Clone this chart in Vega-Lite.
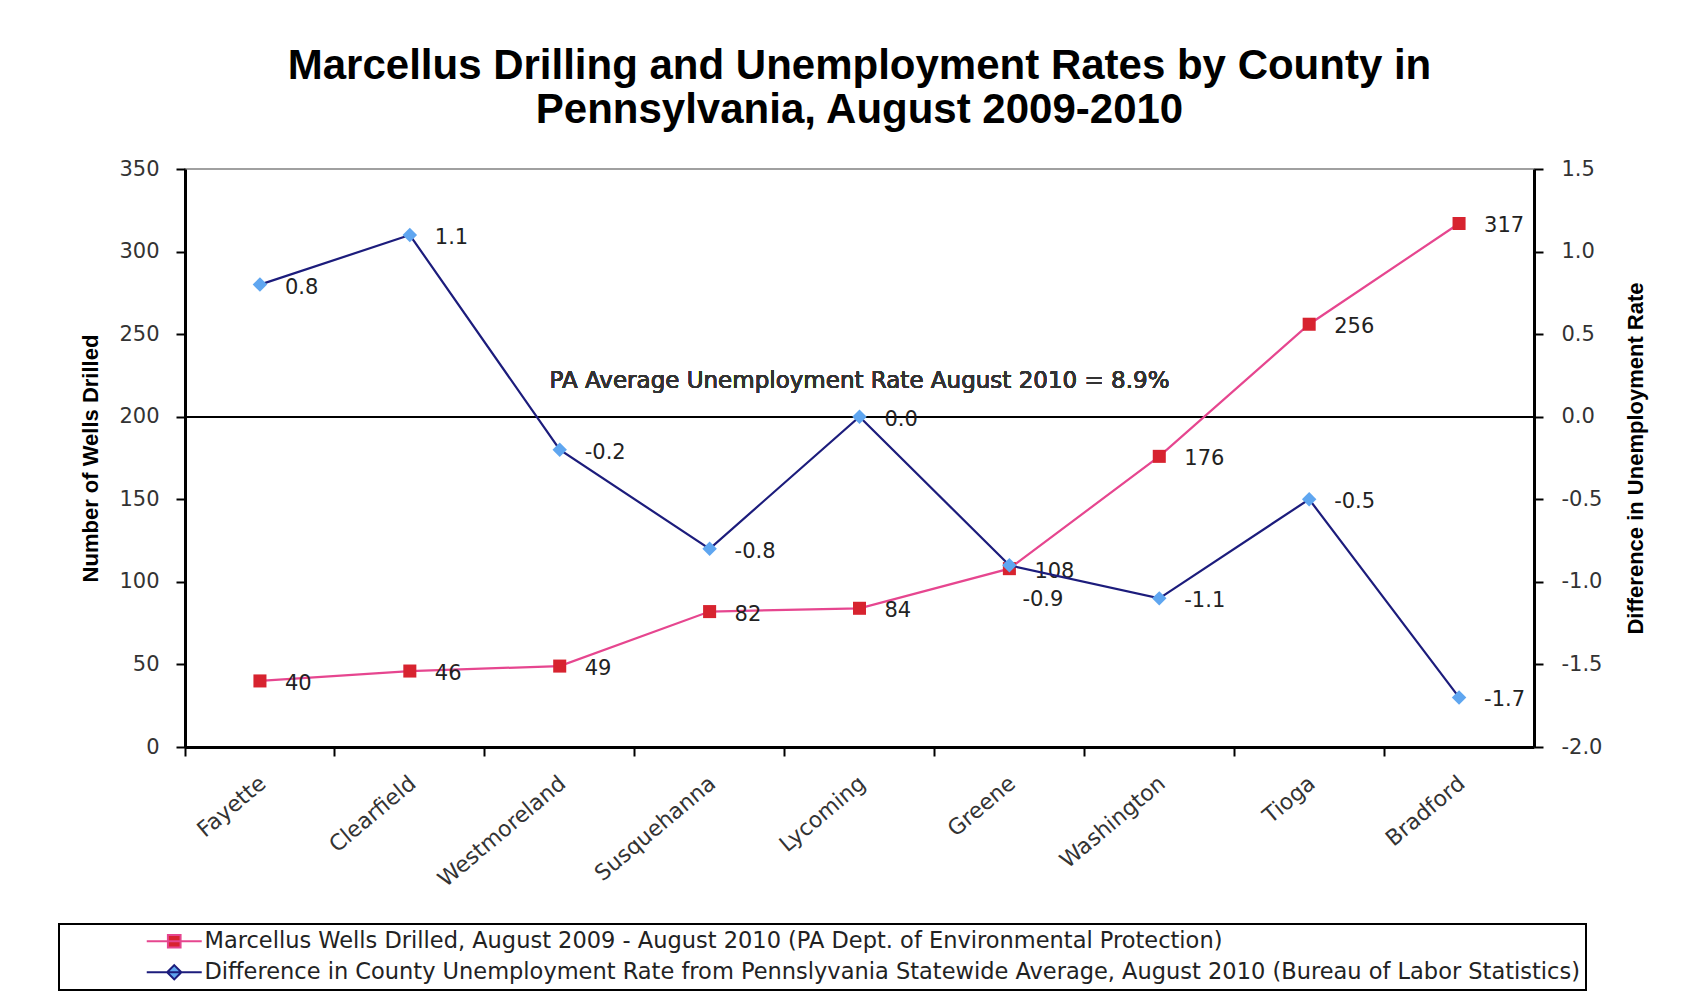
{
  "$schema": "https://vega.github.io/schema/vega-lite/v6.json",
  "width": 1349,
  "height": 578,
  "autosize": {"type": "none"},
  "padding": {"left": 185, "top": 169, "right": 152, "bottom": 248},
  "background": "white",
  "title": {
    "text": ["Marcellus Drilling and Unemployment Rates by County in", "Pennsylvania, August 2009-2010"],
    "font": "Liberation Sans",
    "fontSize": 42,
    "fontWeight": "bold",
    "color": "black",
    "lineHeight": 44,
    "anchor": "middle",
    "frame": "group",
    "baseline": "alphabetic",
    "offset": -7
  },
  "data": {
    "values": [
      {"county": "Fayette", "wells": 40, "unemp": 0.8},
      {"county": "Clearfield", "wells": 46, "unemp": 1.1},
      {"county": "Westmoreland", "wells": 49, "unemp": -0.2},
      {"county": "Susquehanna", "wells": 82, "unemp": -0.8},
      {"county": "Lycoming", "wells": 84, "unemp": 0.0},
      {"county": "Greene", "wells": 108, "unemp": -0.9},
      {"county": "Washington", "wells": 176, "unemp": -1.1},
      {"county": "Tioga", "wells": 256, "unemp": -0.5},
      {"county": "Bradford", "wells": 317, "unemp": -1.7}
    ]
  },
  "config": {
    "locale": {"number": {"decimal": ".", "thousands": ",", "grouping": [3], "currency": ["$", ""], "minus": "-"}},
    "view": {"stroke": "#a0a0a0", "strokeWidth": 2},
    "axis": {
      "labelFont": "DejaVu Sans",
      "labelFontSize": 21,
      "labelColor": "#333333",
      "domainColor": "black",
      "domainWidth": 3,
      "tickColor": "black",
      "tickWidth": 2,
      "tickSize": 9,
      "grid": false,
      "titleFont": "Liberation Sans",
      "titleFontSize": 22,
      "titleFontWeight": "bold",
      "titleColor": "black"
    }
  },
  "resolve": {"scale": {"y": "independent"}},
  "layer": [
    {
      "layer": [
        {
          "mark": {"type": "rule", "color": "black", "strokeWidth": 1.5},
          "encoding": {
            "y": {"datum": 200, "type": "quantitative", "scale": {"domain": [0, 350], "nice": false, "zero": false}}
          }
        },
        {
          "mark": {"type": "text", "text": "PA Average Unemployment Rate August 2010 = 8.9%", "font": "DejaVu Sans", "fontSize": 23, "fontWeight": "normal", "color": "#333333", "baseline": "alphabetic", "align": "center", "dy": -29},
          "encoding": {
            "x": {"datum": "Lycoming", "type": "nominal", "bandPosition": 0.5},
            "y": {"datum": 200, "type": "quantitative"}
          }
        },
        {
          "mark": {"type": "line", "color": "#e6468f", "strokeWidth": 2.2},
          "encoding": {
            "x": {
              "field": "county", "type": "nominal", "bandPosition": 0.5,
              "scale": {"type": "band", "domain": ["Fayette", "Clearfield", "Westmoreland", "Susquehanna", "Lycoming", "Greene", "Washington", "Tioga", "Bradford"], "paddingInner": 0, "paddingOuter": 0},
              "axis": {"orient": "bottom", "title": null, "bandPosition": 0, "labelOffset": 3, "labelAngle": -40, "labelAlign": "right", "labelBaseline": "middle", "labelPadding": 24, "labelFontSize": 22}
            },
            "y": {
              "field": "wells", "type": "quantitative",
              "scale": {"domain": [0, 350], "nice": false, "zero": false},
              "axis": {"orient": "left", "values": [0, 50, 100, 150, 200, 250, 300, 350], "title": "Number of Wells Drilled", "labelPadding": 17, "titlePadding": 16}
            }
          }
        },
        {
          "mark": {"type": "point", "shape": "square", "filled": true, "size": 170, "color": "#d7232f", "opacity": 1},
          "encoding": {
            "x": {"field": "county", "type": "nominal", "bandPosition": 0.5},
            "y": {"field": "wells", "type": "quantitative"}
          }
        },
        {
          "mark": {"type": "text", "font": "DejaVu Sans", "fontSize": 21, "color": "#222222", "align": "left", "baseline": "middle", "dx": 25, "dy": 3},
          "encoding": {
            "x": {"field": "county", "type": "nominal", "bandPosition": 0.5},
            "y": {"field": "wells", "type": "quantitative"},
            "text": {"field": "wells", "type": "quantitative"}
          }
        }
      ]
    },
    {
      "layer": [
        {
          "mark": {"type": "line", "color": "#1c1c7c", "strokeWidth": 2.2},
          "encoding": {
            "x": {"field": "county", "type": "nominal", "bandPosition": 0.5},
            "y": {
              "field": "unemp", "type": "quantitative",
              "scale": {"domain": [-2, 1.5], "nice": false, "zero": false},
              "axis": {"orient": "right", "values": [-2, -1.5, -1, -0.5, 0, 0.5, 1, 1.5], "format": ".1f", "title": "Difference in Unemployment Rate", "titleAngle": -90, "titleBaseline": "top", "labelPadding": 18, "titlePadding": 24}
            }
          }
        },
        {
          "mark": {"type": "point", "shape": "diamond", "filled": true, "size": 210, "color": "#5fa6f0", "opacity": 1},
          "encoding": {
            "x": {"field": "county", "type": "nominal", "bandPosition": 0.5},
            "y": {"field": "unemp", "type": "quantitative"}
          }
        },
        {
          "transform": [{"filter": "datum.county != 'Greene'"}],
          "mark": {"type": "text", "font": "DejaVu Sans", "fontSize": 21, "color": "#222222", "align": "left", "baseline": "middle", "dx": 25, "dy": 3},
          "encoding": {
            "x": {"field": "county", "type": "nominal", "bandPosition": 0.5},
            "y": {"field": "unemp", "type": "quantitative"},
            "text": {"field": "unemp", "type": "quantitative", "format": ".1f"}
          }
        },
        {
          "transform": [{"filter": "datum.county == 'Greene'"}],
          "mark": {"type": "text", "font": "DejaVu Sans", "fontSize": 21, "color": "#222222", "align": "left", "baseline": "middle", "dx": 13, "dy": 35},
          "encoding": {
            "x": {"field": "county", "type": "nominal", "bandPosition": 0.5},
            "y": {"field": "unemp", "type": "quantitative"},
            "text": {"field": "unemp", "type": "quantitative", "format": ".1f"}
          }
        }
      ]
    },
    {
      "data": {"values": [{"series": "wells"}, {"series": "unemp"}]},
      "mark": {"type": "point", "filled": true, "opacity": 0},
      "encoding": {
        "color": {
          "field": "series", "type": "nominal",
          "scale": {"domain": ["wells", "unemp"], "range": ["#d7232f", "#5fa6f0"]},
          "legend": {
            "orient": "none",
            "legendX": -126,
            "legendY": 755,
            "title": null,
            "direction": "vertical",
            "labelFont": "DejaVu Sans",
            "labelFontSize": 22.5,
            "labelColor": "#222222",
            "labelLimit": 2000,
            "symbolSize": 121,
            "symbolOffset": 98,
            "labelOffset": 19,
            "rowPadding": 8,
            "padding": 6,
            "strokeColor": "black",
            "labelExpr": "datum.value == 'wells' ? 'Marcellus Wells Drilled, August 2009 - August 2010 (PA Dept. of Environmental Protection)' : 'Difference in County Unemployment Rate from Pennslyvania Statewide Average, August 2010 (Bureau of Labor Statistics)'",
            "encode": {
              "legend": {"update": {"strokeWidth": {"value": 2}}},
              "symbols": {
                "update": {
                  "opacity": {"value": 1},
                  "stroke": {"signal": "datum.value == 'wells' ? '#e6468f' : '#1c1c7c'"},
                  "strokeWidth": {"value": 2}
                }
              }
            }
          }
        },
        "shape": {
          "field": "series", "type": "nominal",
          "scale": {"domain": ["wells", "unemp"], "range": ["M-5,0H5M-1.15,-1.15H1.15V1.15H-1.15Z", "M-5,0H5M0,-1.3L1.3,0L0,1.3L-1.3,0Z"]}
        }
      }
    }
  ]
}
